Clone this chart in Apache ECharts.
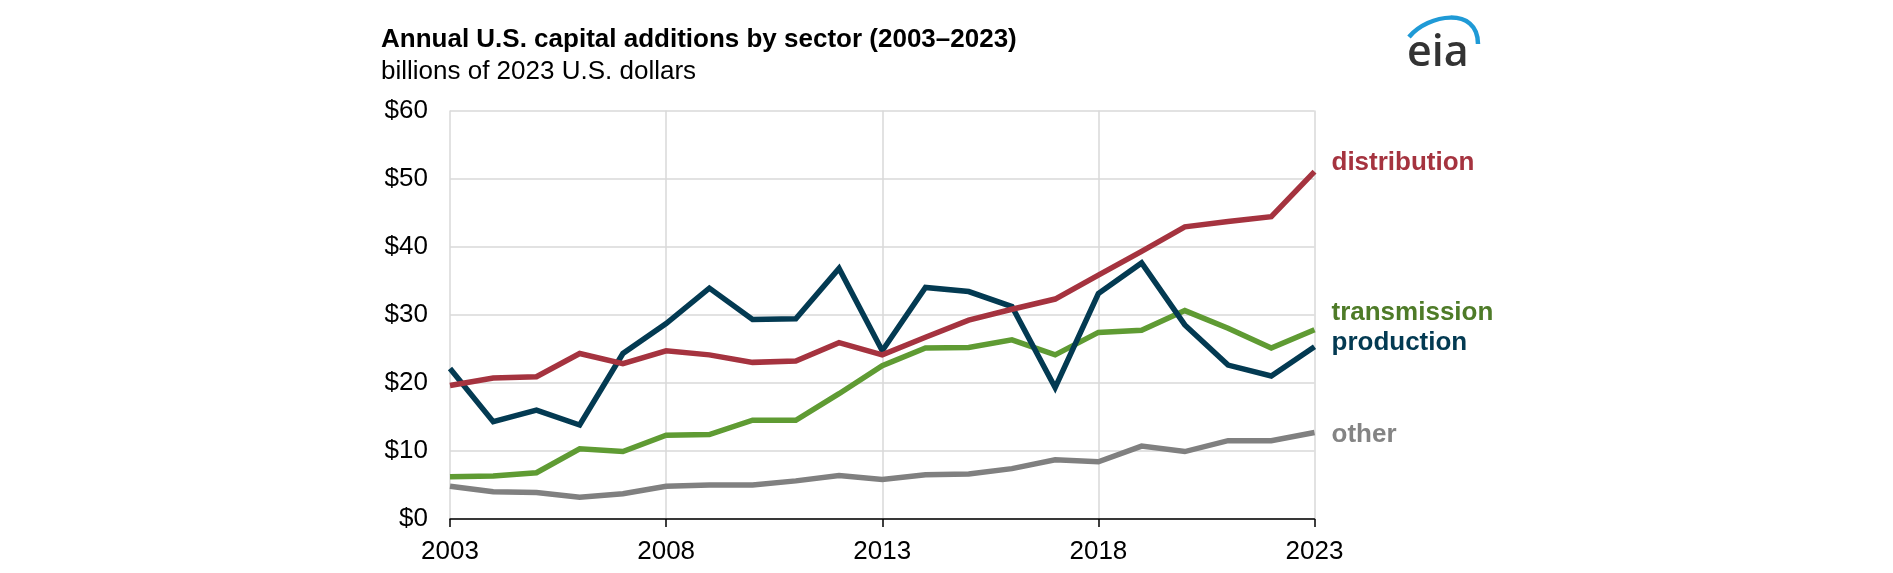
<!DOCTYPE html>
<html>
<head>
<meta charset="utf-8">
<script src="https://cdn.jsdelivr.net/npm/echarts@6/dist/echarts.min.js"></script>
<style>
html,body{margin:0;padding:0;background:#fff;}
#chart{width:1893px;height:573px;}
</style>
</head>
<body>
<div id="chart"></div>
<script>
const years = [2003,2004,2005,2006,2007,2008,2009,2010,2011,2012,2013,2014,2015,2016,2017,2018,2019,2020,2021,2022,2023];
const distribution = [19.6,20.7,20.9,24.3,22.8,24.7,24.1,23.0,23.2,25.9,24.1,26.7,29.2,30.8,32.3,35.8,39.3,42.9,43.7,44.4,51.0];
const production = [22.1,14.3,16.0,13.8,24.3,28.7,33.9,29.3,29.4,36.8,24.7,34.0,33.4,31.2,19.3,33.1,37.6,28.5,22.6,21.0,25.3];
const transmission = [6.2,6.3,6.8,10.3,9.9,12.3,12.4,14.5,14.5,18.4,22.5,25.1,25.2,26.3,24.1,27.4,27.7,30.6,28.0,25.1,27.8];
const other = [4.8,4.0,3.9,3.2,3.7,4.8,5.0,5.0,5.6,6.4,5.8,6.5,6.6,7.4,8.7,8.4,10.7,9.9,11.5,11.5,12.7];
const titleText = 'Annual U.S. capital additions by sector (2003\u20132023)';
const subtitleText = 'billions of 2023 U.S. dollars';

const FONT = '"Liberation Sans", Arial, Helvetica, sans-serif';
const pair = arr => arr.map((v, i) => [years[i], v]);

function mk(name, data, color, labelColor, dy) {
  return {
    name: name,
    type: 'line',
    data: pair(data),
    symbol: 'none',
    lineStyle: { color: color, width: 5.5, join: 'miter', cap: 'butt' },
    endLabel: {
      show: true,
      formatter: name,
      color: labelColor,
      fontFamily: FONT,
      fontWeight: 'bold',
      fontSize: 26,
      distance: 17,
      offset: [0, dy]
    },
    silent: true
  };
}

const chart = echarts.init(document.getElementById('chart'), null, { renderer: 'canvas' });
chart.setOption({
  animation: false,
  backgroundColor: '#ffffff',
  title: [
    { text: titleText, left: 381, top: 27, padding: 0,
      textStyle: { fontFamily: FONT, fontSize: 26, fontWeight: 'bold', color: '#000' } },
    { text: subtitleText, left: 381, top: 59, padding: 0,
      textStyle: { fontFamily: FONT, fontSize: 26, fontWeight: 'normal', color: '#000' } }
  ],
  grid: { left: 450, right: 578.5, top: 110.4, bottom: 54, containLabel: false },
  xAxis: {
    type: 'value', min: 2003, max: 2023, interval: 5,
    axisLine: { show: true, lineStyle: { color: '#000', width: 1.5 } },
    axisTick: { show: true, length: 8, lineStyle: { color: '#000', width: 1.5 } },
    axisLabel: { formatter: v => String(v), fontFamily: FONT, fontSize: 26, color: '#000', margin: 20 },
    splitLine: { show: true, lineStyle: { color: '#d9d9d9', width: 1.5 } }
  },
  yAxis: {
    type: 'value', min: 0, max: 60, interval: 10,
    axisLine: { show: false }, axisTick: { show: false },
    axisLabel: { formatter: v => '$' + v, fontFamily: FONT, fontSize: 26, color: '#000', margin: 22 },
    splitLine: { show: true, lineStyle: { color: '#d9d9d9', width: 1.5 } }
  },
  series: [
    mk('other', other, '#808080', '#848484', 2),
    mk('transmission', transmission, '#5f9b33', '#4e7b28', -17),
    mk('production', production, '#033a52', '#033a52', -3.5),
    mk('distribution', distribution, '#a5333f', '#a5333f', -9)
  ],
  graphic: [
    { type: 'bezierCurve',
      shape: { x1: 1409, y1: 37, cpx1: 1428, cpy1: 14, cpx2: 1478, cpy2: 6, x2: 1478, y2: 44 },
      style: { stroke: '#1f9ad6', lineWidth: 4.5, fill: null } },
    { type: 'text', left: 1407, top: 32,
      style: { text: 'eia', font: '600 43px "Open Sans", Roboto, sans-serif', fill: '#333333' } }
  ]
});
</script>
</body>
</html>
